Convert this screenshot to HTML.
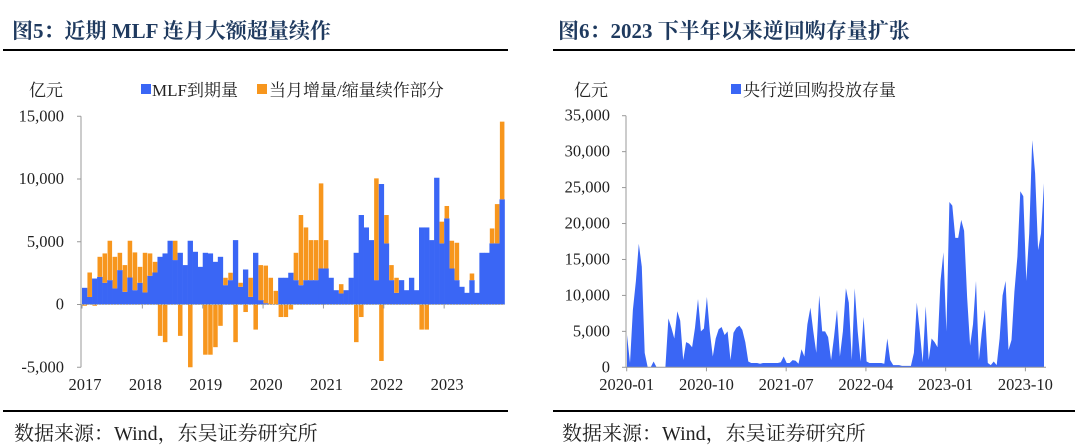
<!DOCTYPE html>
<html><head><meta charset="utf-8"><style>
body{margin:0;background:#fff;width:1080px;height:448px;overflow:hidden;font-family:"Liberation Serif","Noto Serif CJK SC",serif;}
svg{position:absolute;left:0;top:0}
</style></head><body>
<svg id="s" width="1080" height="448" xmlns="http://www.w3.org/2000/svg">
<g font-family="Liberation Serif, Noto Serif CJK SC, serif">
<text x="12" y="38" font-size="21" font-weight="bold" fill="#1f3a5f">图5：近期 MLF 连月大额超量续作</text>
<rect x="3" y="49" width="505" height="2" fill="#000"/>
<text x="558" y="38" font-size="21" font-weight="bold" fill="#1f3a5f">图6：2023 下半年以来逆回购存量扩张</text>
<rect x="553" y="49" width="522" height="2" fill="#000"/>
<rect x="3" y="410" width="505" height="2" fill="#000"/>
<rect x="553" y="410" width="522" height="2" fill="#000"/>
<text x="14" y="440" font-size="20" fill="#222">数据来源：Wind，东吴证券研究所</text>
<text x="562" y="440" font-size="20" fill="#222">数据来源：Wind，东吴证券研究所</text>
<text x="29" y="96" font-size="17" fill="#222">亿元</text>
<rect x="141" y="84" width="10" height="10" fill="#3a66f5"/>
<text x="152" y="96" font-size="17" fill="#222">MLF到期量</text>
<rect x="257" y="84" width="10" height="10" fill="#f7961d"/>
<text x="269" y="96" font-size="17" fill="#222">当月增量/缩量续作部分</text>
<text x="574" y="96" font-size="17" fill="#222">亿元</text>
<rect x="731" y="84" width="10" height="10" fill="#3a66f5"/>
<text x="743" y="96" font-size="17" fill="#222">央行逆回购投放存量</text>
</g>
<g id="L"></g><g id="R"></g>
</svg>
<script>
const mlf=[1330,600,2070,2200,1730,1940,1280,2740,1010,2150,1140,1730,
960,2290,2550,3800,4070,5080,3540,4120,3140,5080,4200,3000,
4120,4070,3400,3800,1540,1940,5130,1410,2790,610,4120,350,
100,0,0,2130,2130,2530,1940,1540,1940,1940,1940,2870,
2870,2130,1140,880,1140,2130,4120,7130,6140,5130,1940,9600,
4870,1940,930,1940,1140,2130,1140,6140,6140,5130,10100,4870,
6860,2870,1940,1410,930,1940,930,4120,4120,4870,4870,8380];
const chg=[-100,1950,-100,1600,2340,3140,2520,1380,2130,2930,3010,1270,
3160,1780,850,-2500,-3000,0,1540,-2500,0,-5000,0,0,
-4000,-4000,-3400,-1700,590,590,-3000,320,-600,1520,-2000,2790,
3000,2130,1090,-1000,-1000,-400,2180,5590,4200,3190,3190,6780,
2260,0,0,740,0,0,-3000,-1000,0,0,8110,-4500,
2260,1200,1200,0,0,0,0,-2000,-2000,0,0,1730,
990,2210,2980,0,0,530,0,0,0,1190,3130,6190];
const leftTicks=[15000,10000,5000,0,-5000];
const years=["2017","2018","2019","2020","2021","2022","2023"];
const repo=[4500,600,8000,12000,17200,14000,2000,0,0,800,0,0,0,0,6800,5500,4000,7800,6500,1000,3500,3300,2800,5500,9500,5000,5400,9800,5000,1500,4000,5300,5600,4500,5000,1000,4800,5500,5800,5200,3500,800,600,600,600,500,600,600,600,600,600,600,700,1500,600,600,1000,900,500,2500,1500,6000,8300,5000,2000,10000,5000,5000,4200,1000,4200,8000,1500,5000,11000,9000,1000,11000,5000,800,7000,800,600,600,600,600,600,500,4000,1000,300,300,300,200,200,200,200,2000,9000,5000,700,8500,1000,4000,3500,2800,12000,16000,5000,23000,22500,18000,18000,20500,19000,9800,3000,6000,12000,1000,5000,8000,600,300,800,300,4000,10000,12000,2400,3800,10500,15400,24500,23800,12000,18600,31600,27000,16300,18600,25600];
const rightTicks=[35000,30000,25000,20000,15000,10000,5000,0];
const rightXLabels=["2020-01","2020-10","2021-07","2022-04","2023-01","2023-10"];
const NS="http://www.w3.org/2000/svg";
function mk(p,t,a){const e=document.createElementNS(NS,t);for(const k in a)e.setAttribute(k,a[k]);p.appendChild(e);return e;}
const L=document.getElementById('L');
const lx0=82,lmw=5.03;
const ly=v=>304.5-v*0.01255;
const lx=i=>lx0+i*lmw;
mk(L,'line',{x1:81,y1:ly(15000),x2:81,y2:ly(-5000),stroke:'#999','stroke-width':1});
leftTicks.forEach(v=>{
 mk(L,'line',{x1:77,y1:ly(v),x2:81,y2:ly(v),stroke:'#999'});
 const t=mk(L,'text',{x:64,y:ly(v)+5,'text-anchor':'end','font-size':16.5,fill:'#222','font-family':'Liberation Serif, serif'});
 t.textContent=v.toLocaleString('en-US');
 
 
});
mlf.forEach((v,i)=>{
 const b=mk(L,'rect',{x:lx(i),y:ly(v),width:lmw+0.3,height:ly(0)-ly(v),fill:'#3a66f5'});
 
 
 const c=chg[i];
 if(c!==0){
  const top=c>0?ly(v+c):ly(0), bot=c>0?ly(v):ly(c);
  const o=mk(L,'rect',{x:lx(i)+0.4,y:top,width:lmw-0.5,height:bot-top,fill:'#f7961d'});
  
  
 }
});
mk(L,'line',{x1:81,y1:ly(0),x2:lx(84),y2:ly(0),stroke:'#aaa','stroke-dasharray':'2 1'});
years.forEach((y,k)=>{
 mk(L,'line',{x1:lx(k*12),y1:ly(0),x2:lx(k*12),y2:ly(0)+4,stroke:'#999'});
 const t=mk(L,'text',{x:lx(k*12)+3,y:390,'text-anchor':'middle','font-size':16.5,fill:'#222','font-family':'Liberation Serif, serif'});
 t.textContent=y;
 
 
});
const R=document.getElementById('R');
const rx0=627,rx1=1044;
const rx=i=>rx0+i*(rx1-rx0)/(repo.length-1);
const ry=v=>367.3-v*0.0071886;
mk(R,'line',{x1:626,y1:ry(35000),x2:626,y2:ry(0),stroke:'#999'});
rightTicks.forEach(v=>{
 mk(R,'line',{x1:622,y1:ry(v),x2:626,y2:ry(v),stroke:'#999'});
 const t=mk(R,'text',{x:610,y:ry(v)+5,'text-anchor':'end','font-size':16.5,fill:'#222','font-family':'Liberation Serif, serif'});
 t.textContent=v.toLocaleString('en-US');
 
 
});
let d='M'+rx(0)+','+ry(0);
repo.forEach((v,i)=>{d+=' L'+rx(i).toFixed(1)+','+ry(v).toFixed(1);});
d+=' L'+rx(repo.length-1)+','+ry(0)+'Z';
const a=mk(R,'path',{d:d,fill:'#3a66f5'});


mk(R,'line',{x1:626,y1:ry(0),x2:1046,y2:ry(0),stroke:'#999'});
const mpx=8.86;
rightXLabels.forEach((s,k)=>{
 const x=626.7+k*9*mpx;
 mk(R,'line',{x1:x,y1:ry(0),x2:x,y2:ry(0)+4,stroke:'#999'});
 const t=mk(R,'text',{x:x,y:390,'text-anchor':'middle','font-size':16.5,fill:'#222','font-family':'Liberation Serif, serif'});
 t.textContent=s;
 
 
});
</script>
</body></html>
